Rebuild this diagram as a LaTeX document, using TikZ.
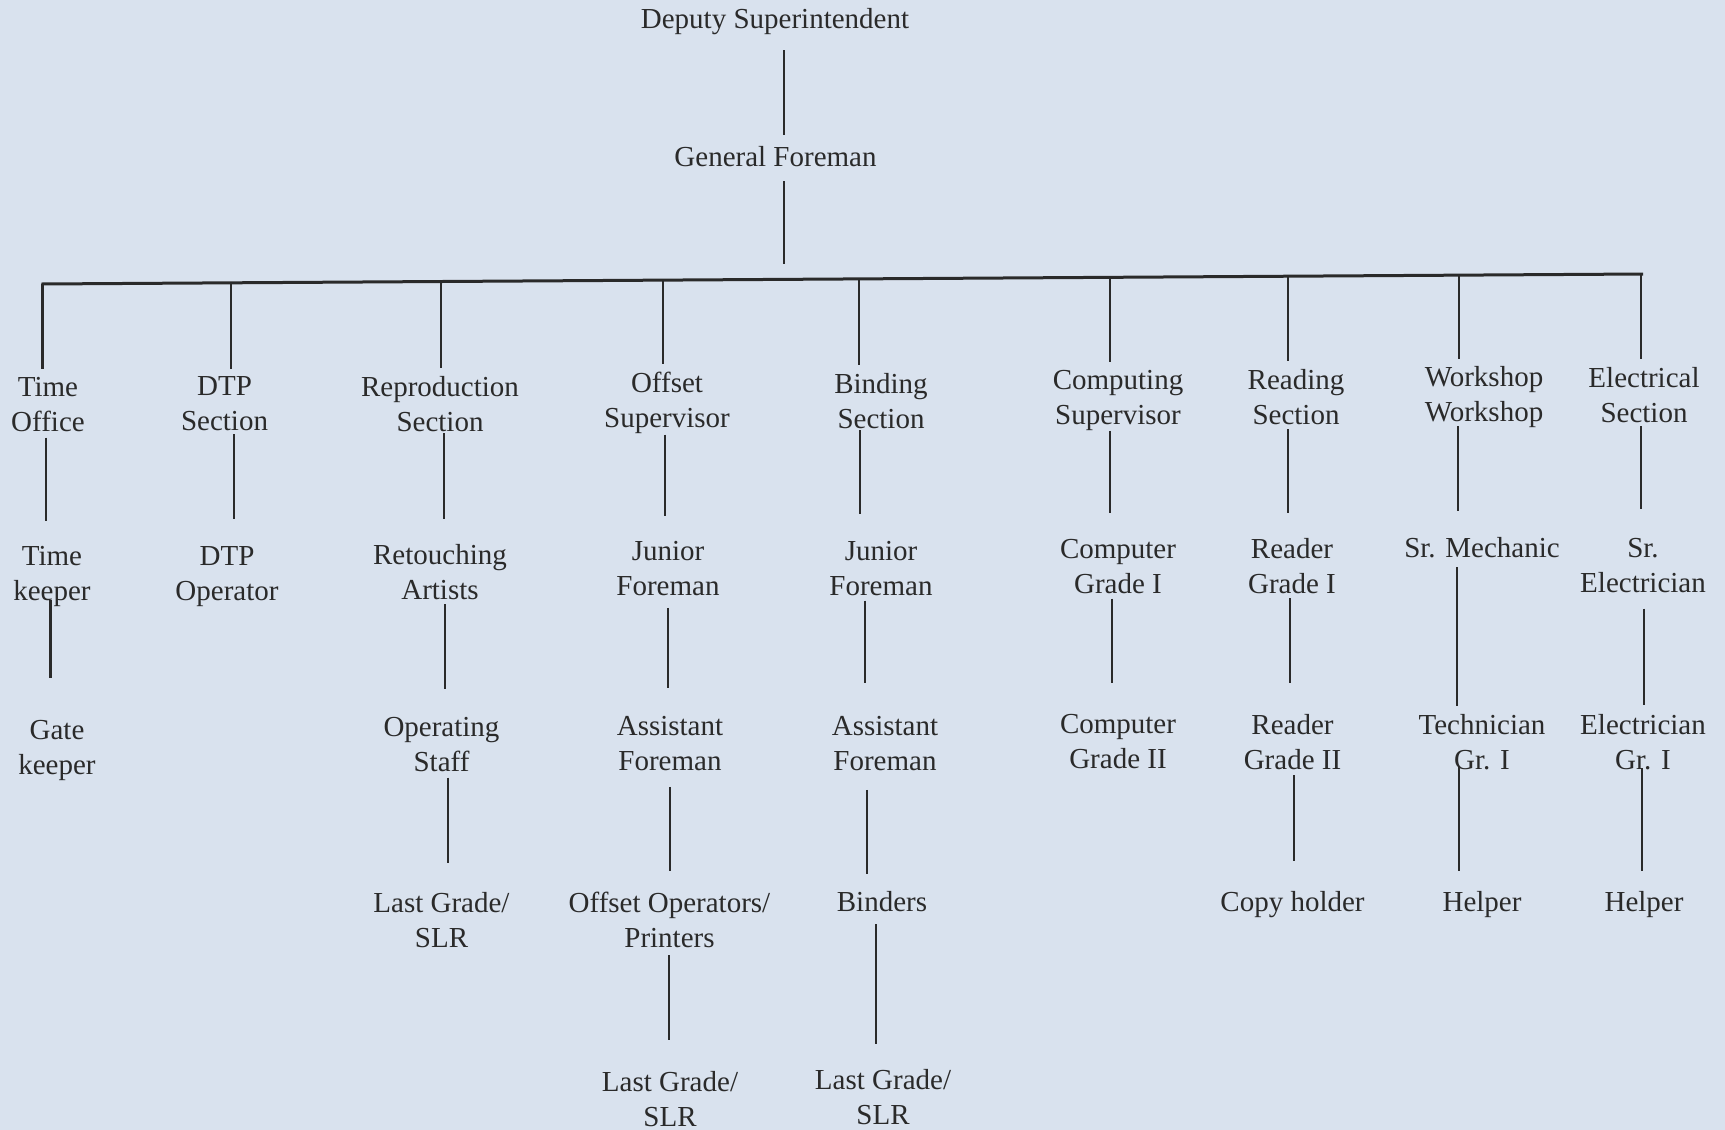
\documentclass[tikz,border=0pt]{standalone}
\usepackage{fontspec}
\setmainfont{Liberation Serif}
\definecolor{bg}{HTML}{D9E2EE}
\definecolor{ink}{HTML}{2A2A2A}
\newcommand\conn[5]{\draw[link,shorten <=#4,shorten >=#5] (#3,0 |- #1.south) -- (#3,0 |- #2.north);}
\newcommand\topstrut{\rule{0pt}{15.75pt}}
\newcommand\botstrut{\rule[-1.75pt]{0pt}{1.75pt}}
\begin{document}
\begin{tikzpicture}[x=0.5pt,y=-0.5pt,
  lbl/.style={align=center, inner sep=0pt, text=ink,
    font=\fontsize{14.5pt}{17.5pt}\selectfont,
    execute at begin node=\topstrut, execute at end node=\botstrut},
  link/.style={draw=ink, line width=1.3pt},
  bus/.style={draw=ink, line width=1.5pt}]
\fill[bg] (0,0) rectangle (1725,1130);
\useasboundingbox (0,0) rectangle (1725,1130);

% top
\node[lbl] (ds) at (775,16) {Deputy Superintendent};
\node[lbl] (gf) at (775.5,152) {General Foreman};

% row 1
\node[lbl] (to)  at (48,406.5)   {Time\\Office};
\node[lbl] (dtp) at (224.5,405.5) {DTP\\Section};
\node[lbl] (rep) at (440,405.5)  {Reproduction\\Section};
\node[lbl] (off) at (667,402.5)  {Offset\\Supervisor};
\node[lbl] (bin) at (881,402.5)  {Binding\\Section};
\node[lbl] (cs)  at (1118,400.5) {Computing\\Supervisor};
\node[lbl] (rs)  at (1296,398.5) {Reading\\Section};
\node[lbl] (ws)  at (1484,397.5) {Workshop\\Workshop};
\node[lbl] (es)  at (1644,396.5) {Electrical\\Section};

% row 2
\node[lbl] (tk)  at (52,576.5)   {Time\\keeper};
\node[lbl] (dop) at (227,576.5)  {DTP\\Operator};
\node[lbl] (ret) at (440,573.5)  {Retouching\\Artists};
\node[lbl] (jf1) at (668,570.5)  {Junior\\Foreman};
\node[lbl] (jf2) at (881,570.5)  {Junior\\Foreman};
\node[lbl] (cg1) at (1118,568.5) {Computer\\Grade I};
\node[lbl] (rg1) at (1292,567.5) {Reader\\Grade I};
\node[lbl] (sm)  at (1482,543.5) {Sr. Mechanic};
\node[lbl] (se)  at (1643,567.5) {Sr.\\Electrician};

% row 3
\node[lbl] (gk)  at (57,750.5)   {Gate\\keeper};
\node[lbl] (ops) at (441.5,746.5) {Operating\\Staff};
\node[lbl] (af1) at (670,745.5)  {Assistant\\Foreman};
\node[lbl] (af2) at (885,745.5)  {Assistant\\Foreman};
\node[lbl] (cg2) at (1118,743.5) {Computer\\Grade II};
\node[lbl] (rg2) at (1292.5,743.5) {Reader\\Grade II};
\node[lbl] (tg)  at (1482,743.5) {Technician\\Gr. I};
\node[lbl] (eg)  at (1643,743.5) {Electrician\\Gr. I};

% row 4
\node[lbl] (lg1) at (441.5,921.5) {Last Grade/\\SLR};
\node[lbl] (oop) at (669.5,921.5) {Offset Operators/\\Printers};
\node[lbl] (bnd) at (882,897)     {Binders};
\node[lbl] (ch)  at (1292.5,899)  {Copy holder};
\node[lbl] (h1)  at (1482,899)    {Helper};
\node[lbl] (h2)  at (1644,899)    {Helper};

% row 5
\node[lbl] (lg2) at (670,1100.5) {Last Grade/\\SLR};
\node[lbl] (lg3) at (883,1098.5) {Last Grade/\\SLR};

% bus
\coordinate (busL) at (41.5,284);
\coordinate (busR) at (1643,274);
\draw[bus] (busL) -- (busR);
\coordinate (bgf) at (784,279.4);
\conn{ds}{gf}{784}{7.6pt}{-0.3pt}
\draw[link,shorten <=5.7pt,shorten >=7.7pt] (gf.south -| bgf) -- (bgf);

% drops from bus
\coordinate (d1) at (42.5,284.0);
\coordinate (d2) at (231,282.8);
\coordinate (d3) at (441,281.5);
\coordinate (d4) at (663,280.1);
\coordinate (d5) at (859,278.9);
\coordinate (d6) at (1110,277.3);
\coordinate (d7) at (1288,276.2);
\coordinate (d8) at (1459,275.1);
\coordinate (d9) at (1641,274.0);
\draw[link,shorten >=3.9pt] (d1) -- (d1 |- to.north);
\draw[link,shorten >=3.9pt] (d2) -- (d2 |- dtp.north);
\draw[link,shorten >=3.9pt] (d3) -- (d3 |- rep.north);
\draw[link,shorten >=3.9pt] (d4) -- (d4 |- off.north);
\draw[link,shorten >=3.9pt] (d5) -- (d5 |- bin.north);
\draw[link,shorten >=3.9pt] (d6) -- (d6 |- cs.north);
\draw[link,shorten >=3.9pt] (d7) -- (d7 |- rs.north);
\draw[link,shorten >=3.9pt] (d8) -- (d8 |- ws.north);
\draw[link,shorten >=3.9pt] (d9) -- (d9 |- es.north);

% column links
\conn{to}{tk}{46}{0.95pt}{12.4pt}
\conn{tk}{gk}{50.7}{-3.65pt}{20.9pt}
\conn{dtp}{dop}{234}{-0.1pt}{13.4pt}
\conn{rep}{ret}{444}{-1.1pt}{12.4pt}
\conn{ret}{ops}{445}{0.45pt}{13.9pt}
\conn{ops}{lg1}{448}{0.95pt}{14.4pt}
\conn{off}{jf1}{665}{0.4pt}{12.45pt}
\conn{jf1}{af1}{668}{4.05pt}{14pt}
\conn{af1}{oop}{670}{6pt}{10.35pt}
\conn{oop}{lg2}{669}{2pt}{15.4pt}
\conn{bin}{jf2}{860}{-1.1pt}{13.45pt}
\conn{jf2}{af2}{865}{0.45pt}{16.5pt}
\conn{af2}{bnd}{867}{7.5pt}{2.7pt}
\conn{bnd}{lg3}{876}{4.75pt}{12.4pt}
\conn{cs}{cg1}{1110}{-0.1pt}{12.95pt}
\conn{cg1}{cg2}{1112}{0.45pt}{15.45pt}
\conn{rs}{rg1}{1288}{0.45pt}{12.4pt}
\conn{rg1}{rg2}{1290}{0.45pt}{15.45pt}
\conn{rg2}{ch}{1294}{0.9pt}{9.6pt}
\conn{ws}{sm}{1458}{-1.1pt}{7.45pt}
\conn{sm}{tg}{1457}{2.8pt}{3.95pt}
\conn{tg}{h1}{1459}{-3.6pt}{4.15pt}
\conn{es}{se}{1641}{-0.05pt}{14.5pt}
\conn{se}{eg}{1644}{5.95pt}{4.4pt}
\conn{eg}{h2}{1642}{-2.6pt}{4.15pt}
\end{tikzpicture}
\end{document}
